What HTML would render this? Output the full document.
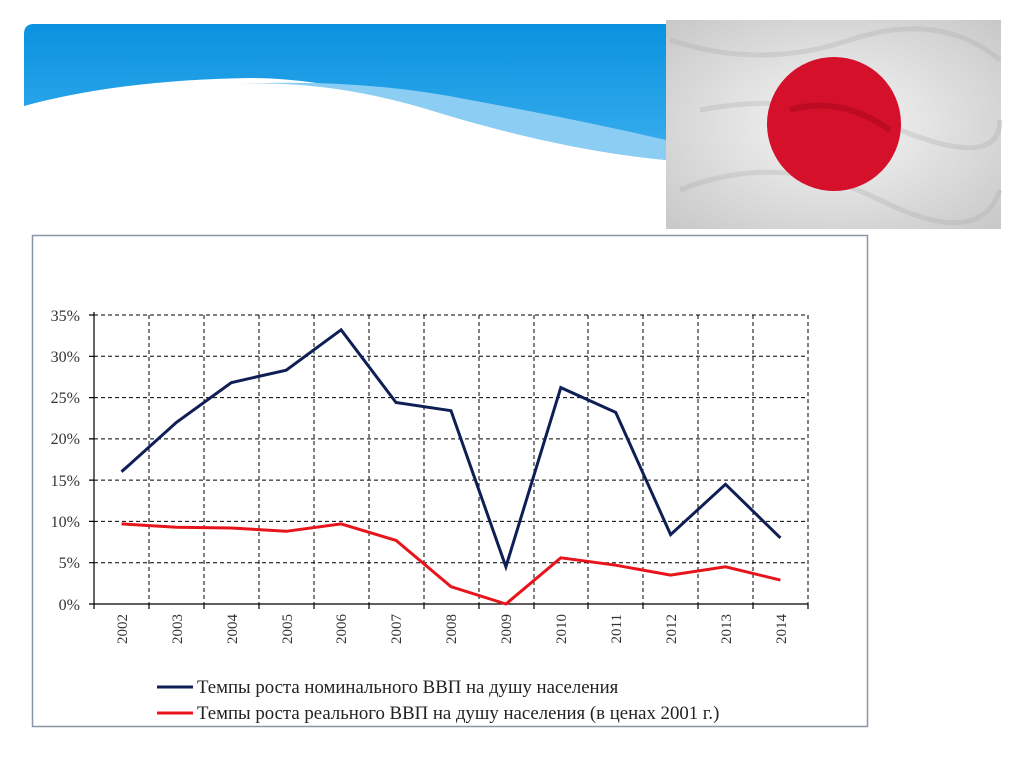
<!DOCTYPE html>
<html><head><meta charset="utf-8"><style>
body{margin:0;width:1024px;height:767px;background:#fff;overflow:hidden;position:relative;font-family:"Liberation Serif",serif}
</style></head><body>
<svg width="1024" height="767" style="position:absolute;left:0;top:0">
<defs>
<linearGradient id="bl" x1="0" y1="0" x2="0" y2="1"><stop offset="0" stop-color="#0a92df"/><stop offset="1" stop-color="#3aaeee"/></linearGradient>
<radialGradient id="fl" cx="0.5" cy="0.5" r="0.7"><stop offset="0" stop-color="#f6f6f6"/><stop offset="1" stop-color="#c8c8c8"/></radialGradient>
</defs>
<path d="M24,34 Q24,24 34,24 L666,24 L666,160 Q560,150 430,110 Q330,78 250,78 Q120,80 24,106 Z" fill="url(#bl)"/>
<path d="M240,84 Q360,78 470,100 Q580,120 666,140 L666,160 Q560,150 430,110 Q330,80 240,84Z" fill="#8ccdf3"/>
<rect x="666" y="20" width="335" height="209" fill="url(#fl)"/>
<path d="M670,40 Q760,70 850,40 T1000,60 M680,190 Q780,150 880,200 T1000,190 M700,110 Q800,90 900,130 T1000,120" stroke="#aaa" stroke-width="5" fill="none" opacity="0.3"/>
<circle cx="834" cy="124" r="67" fill="#d5102a"/>
<path d="M790,110 Q840,95 890,130" stroke="#8a0016" stroke-width="6" fill="none" opacity="0.3"/>
<rect x="32.5" y="235.5" width="835" height="491" fill="#fff" stroke="#8a95a5" stroke-width="1.5"/>
<g stroke="#000" stroke-width="1" stroke-dasharray="4,3" fill="none">
<path d="M94,315H808M94,356.3H808M94,397.6H808M94,438.9H808M94,480.1H808M94,521.4H808M94,562.7H808"/>
<path d="M149,315V604M204,315V604M259,315V604M314,315V604M369,315V604M424,315V604M479,315V604M534,315V604M588,315V604M643,315V604M698,315V604M753,315V604M808,315V604"/>
</g>
<g stroke="#000" stroke-width="1.2" fill="none"><path d="M94,312V604H808"/>
<path d="M89,315H94M89,356.3H94M89,397.6H94M89,438.9H94M89,480.1H94M89,521.4H94M89,562.7H94M89,604H94"/>
<path d="M94,604V609M149,604V609M204,604V609M259,604V609M314,604V609M369,604V609M424,604V609M479,604V609M534,604V609M588,604V609M643,604V609M698,604V609M753,604V609M808,604V609"/></g>
<g font-size="16" fill="#333" text-anchor="end">
<text x="80" y="321">35%</text><text x="80" y="362">30%</text><text x="80" y="403">25%</text><text x="80" y="444">20%</text><text x="80" y="486">15%</text><text x="80" y="527">10%</text><text x="80" y="568">5%</text><text x="80" y="610">0%</text>
</g>
<g font-size="15" fill="#333" text-anchor="end">
<text transform="translate(127,614) rotate(-90)">2002</text><text transform="translate(182,614) rotate(-90)">2003</text><text transform="translate(237,614) rotate(-90)">2004</text><text transform="translate(292,614) rotate(-90)">2005</text><text transform="translate(346,614) rotate(-90)">2006</text><text transform="translate(401,614) rotate(-90)">2007</text><text transform="translate(456,614) rotate(-90)">2008</text><text transform="translate(511,614) rotate(-90)">2009</text><text transform="translate(566,614) rotate(-90)">2010</text><text transform="translate(621,614) rotate(-90)">2011</text><text transform="translate(676,614) rotate(-90)">2012</text><text transform="translate(731,614) rotate(-90)">2013</text><text transform="translate(786,614) rotate(-90)">2014</text>
</g>
<polyline fill="none" stroke="#0f1f55" stroke-width="3" points="121.5,471.8 176.4,422.4 231.3,382.6 286.2,370.2 341.1,329.8 396,402.5 451,410.7 505.9,566.8 560.8,387.6 615.7,412.4 670.6,534.6 725.5,484.3 780.4,537.9"/>
<polyline fill="none" stroke="#e8141c" stroke-width="3" points="121.5,523.9 176.4,527.2 231.3,528 286.2,531.3 341.1,523.9 396,540.4 451,586.7 505.9,604 560.8,557.8 615.7,565.2 670.6,575.1 725.5,566.8 780.4,580.1"/>
<line x1="157" y1="687" x2="193" y2="687" stroke="#0f1f55" stroke-width="3"/>
<line x1="157" y1="713" x2="193" y2="713" stroke="#e8141c" stroke-width="3"/>
<g font-size="18.8" fill="#222">
<text x="197" y="693">Темпы роста номинального ВВП на душу населения</text>
<text x="197" y="719">Темпы роста реального ВВП на душу населения (в ценах 2001 г.)</text>
</g>
</svg>
</body></html>
